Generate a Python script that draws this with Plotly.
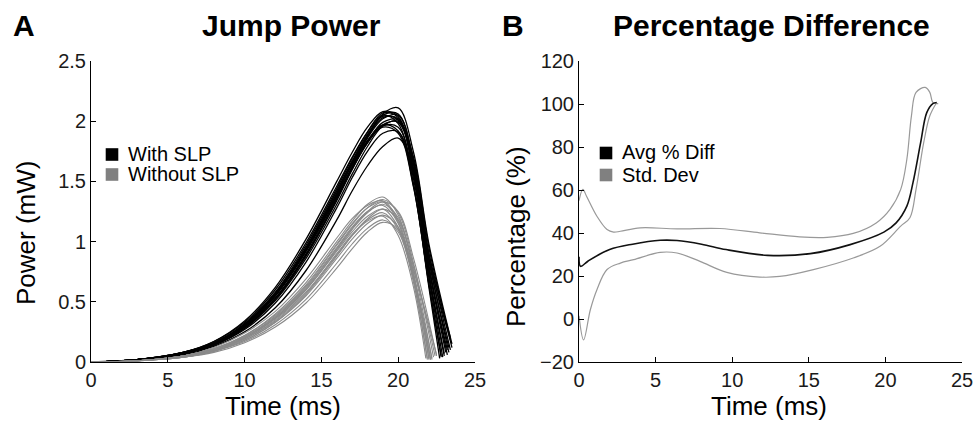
import plotly.graph_objects as go

W, H = 976, 425
FONT = "Liberation Sans, Arial, sans-serif"

# ---------------- Panel A: jump power (time in ms, power in mW) ----------------
T_WITH = [0, 3, 6, 8, 10, 12, 14, 16, 17, 18, 19, 20, 21, 22]
WITH_SLP = [
    [0, .02, .07, .15, .29, .53, .89, 1.35, 1.62, 1.87, 2.06, 2.11, 1.74, .98],
    [0, .02, .08, .16, .32, .58, .97, 1.44, 1.69, 1.91, 2.07, 2.03, 1.56, .72],
    [0, .02, .07, .15, .31, .57, .95, 1.42, 1.67, 1.89, 2.04, 2.01, 1.60, .78],
    [0, .02, .07, .15, .30, .55, .93, 1.40, 1.65, 1.87, 2.03, 2.02, 1.64, .84],
    [0, .02, .07, .14, .28, .52, .88, 1.34, 1.60, 1.83, 1.99, 2.01, 1.65, .86],
    [0, .02, .07, .15, .30, .55, .92, 1.37, 1.61, 1.82, 1.96, 1.95, 1.52, .70],
    [0, .02, .08, .16, .31, .56, .94, 1.40, 1.64, 1.84, 1.97, 1.92, 1.46, .62],
    [0, .02, .07, .14, .27, .49, .83, 1.28, 1.53, 1.75, 1.90, 1.91, 1.55, .78],
    [0, .02, .06, .13, .25, .45, .76, 1.18, 1.42, 1.63, 1.79, 1.86, 1.60, .90],
    [0, .02, .08, .17, .33, .60, .99, 1.46, 1.70, 1.91, 2.05, 1.98, 1.48, .64],
    [0, .02, .07, .15, .30, .55, .92, 1.39, 1.64, 1.86, 2.02, 2.05, 1.68, .90],
    [0, .02, .07, .15, .29, .53, .90, 1.36, 1.60, 1.82, 1.97, 1.99, 1.60, .80],
    [0, .02, .08, .16, .31, .57, .95, 1.42, 1.66, 1.88, 2.05, 2.06, 1.66, .85],
    [0, .02, .07, .15, .31, .56, .93, 1.38, 1.62, 1.83, 1.95, 1.90, 1.45, .65],
    [0, .02, .08, .17, .34, .62, 1.02, 1.50, 1.74, 1.95, 2.08, 2.04, 1.58, .74],
    [0, .02, .07, .14, .28, .51, .86, 1.31, 1.56, 1.79, 1.96, 2.00, 1.70, .95],
]
# last sample of each curve (time, power)
WITH_SLP_END = [(23.5, .15), (23.0, .05), (23.1, .08), (23.3, .12), (23.4, .18),
                (22.9, .04), (22.7, .03), (23.2, .10), (23.4, .20), (22.8, .04),
                (23.4, .10), (23.2, .06), (23.3, .08), (22.8, .05), (23.0, .07),
                (23.5, .12)]

T_WITHOUT = [0, 3, 6, 8, 10, 12, 14, 16, 17, 18, 19, 20, 21]
WITHOUT_SLP = [
    [0, .01, .05, .10, .20, .36, .60, .92, 1.08, 1.21, 1.27, 1.12, .70],
    [0, .01, .05, .11, .22, .40, .66, 1.00, 1.17, 1.31, 1.37, 1.22, .74],
    [0, .01, .05, .11, .21, .38, .63, .97, 1.14, 1.28, 1.35, 1.24, .82],
    [0, .01, .05, .10, .20, .36, .60, .93, 1.10, 1.24, 1.31, 1.20, .78],
    [0, .01, .04, .09, .18, .33, .56, .88, 1.05, 1.19, 1.27, 1.18, .80],
    [0, .01, .05, .10, .19, .35, .58, .90, 1.06, 1.18, 1.24, 1.10, .66],
    [0, .01, .04, .09, .17, .31, .52, .82, .98, 1.11, 1.18, 1.08, .70],
    [0, .01, .04, .08, .16, .29, .49, .78, .94, 1.08, 1.16, 1.10, .76],
    [0, .01, .05, .11, .22, .39, .64, .98, 1.15, 1.28, 1.33, 1.16, .68],
    [0, .01, .05, .10, .20, .37, .61, .94, 1.11, 1.25, 1.33, 1.25, .86],
    [0, .01, .04, .09, .18, .33, .55, .86, 1.02, 1.15, 1.22, 1.12, .72],
    [0, .01, .05, .10, .21, .37, .62, .95, 1.12, 1.25, 1.30, 1.15, .70],
    [0, .01, .04, .09, .19, .34, .57, .89, 1.05, 1.17, 1.21, 1.05, .62],
    [0, .01, .05, .12, .24, .42, .69, 1.03, 1.19, 1.30, 1.34, 1.18, .72],
]
WITHOUT_SLP_END = [(22.1, .02), (22.0, .03), (22.3, .04), (22.2, .02), (22.4, .05),
                   (21.9, .02), (22.2, .03), (22.5, .06), (21.9, .03), (22.5, .05),
                   (22.1, .02), (22.0, .02), (21.8, .03), (22.1, .03)]

# ---------------- Panel B: percentage difference ----------------
T_AVG = [0, 0.1, 0.6, 2.0, 3.5, 5.3, 6.4, 8.0, 9.6, 12.3, 15.1, 17.7, 19.9, 20.7,
         21.4, 21.8, 22.3, 22.7, 23.1, 23.35]
AVG_DIFF = [29, 24.5, 27, 32.3, 34.8, 36.6, 36.5, 34.8, 32.3, 29.6, 30.4, 34.6, 40.4, 44.7,
            52.5, 63.4, 82, 96, 100.2, 100.7]

T_STD_UP = [0, 0.25, 0.5, 1.17, 1.83, 2.26, 2.7, 4.0, 6.4, 9.2, 11.8, 14.4, 16.2, 17.9,
            19.4, 20.3, 21.0, 21.4, 21.7, 22.0, 22.6, 22.9, 23.1, 23.45]
STD_UP = [55, 60.3, 57, 47.8, 41.6, 40.4, 40.8, 42.4, 41.9, 42.1, 40.1, 38.2, 38, 39.8,
          44.7, 51, 60.3, 74.3, 94.5, 105.4, 107.7, 105.4, 100.7, 100.2]

T_STD_LOW = [0, 0.3, 0.74, 1.17, 1.83, 2.7, 3.57, 5.3, 6.4, 7.9, 9.65, 11.8, 13.1, 15.3,
             17.9, 19.65, 21.0, 21.6, 22.0, 22.5, 22.9, 23.35]
STD_LOW = [1.5, -9.7, 4.3, 13.6, 23, 26, 27.6, 31, 30.7, 26.8, 21.7, 19.5, 19.8, 23,
           28.4, 33.8, 43.2, 47.1, 60.3, 82, 94.5, 100.7]

BLACK = "#000000"
GRAY = "#8a8a8a"


# pixel position on the figure -> paper fraction
def px(x):
    return x / W


def py(y):
    return 1 - y / H


fig = go.Figure()

# with SLP curves first, without SLP on top (as in the original)
for vals, (te, pe) in zip(WITH_SLP, WITH_SLP_END):
    fig.add_trace(go.Scatter(x=T_WITH + [te], y=vals + [pe], mode="lines",
                             line=dict(color=BLACK, width=1.3, shape="spline"),
                             showlegend=False, xaxis="x", yaxis="y"))
for vals, (te, pe) in zip(WITHOUT_SLP, WITHOUT_SLP_END):
    fig.add_trace(go.Scatter(x=T_WITHOUT + [te], y=vals + [pe], mode="lines",
                             line=dict(color=GRAY, width=1.1, shape="spline"),
                             showlegend=False, xaxis="x", yaxis="y"))

# panel B
fig.add_trace(go.Scatter(x=T_STD_UP, y=STD_UP, mode="lines",
                         line=dict(color="#999999", width=1.2, shape="spline"),
                         showlegend=False, xaxis="x2", yaxis="y2"))
fig.add_trace(go.Scatter(x=T_STD_LOW, y=STD_LOW, mode="lines",
                         line=dict(color="#999999", width=1.2, shape="spline"),
                         showlegend=False, xaxis="x2", yaxis="y2"))
fig.add_trace(go.Scatter(x=T_AVG, y=AVG_DIFF, mode="lines",
                         line=dict(color="#111111", width=1.6, shape="spline"),
                         showlegend=False, xaxis="x2", yaxis="y2"))

axis_style = dict(showline=True, linecolor="black", linewidth=1, ticks="inside",
                  ticklen=5, tickcolor="black", showgrid=False, zeroline=False,
                  automargin=False,
                  tickfont=dict(family=FONT, size=20, color="#1a1a1a"))
y_dom = [py(362), py(61)]

fig.update_layout(
    width=W, height=H,
    margin=dict(l=0, r=0, t=0, b=0, autoexpand=False),
    paper_bgcolor="white", plot_bgcolor="white",
    showlegend=False,
    xaxis=dict(domain=[px(91), px(475)], range=[0, 25], anchor="y",
               tickvals=[0, 5, 10, 15, 20, 25], **axis_style),
    yaxis=dict(domain=y_dom, range=[0, 2.5], anchor="x",
               tickvals=[0, 0.5, 1, 1.5, 2, 2.5],
               ticktext=["0", "0.5", "1", "1.5", "2", "2.5"], **axis_style),
    xaxis2=dict(domain=[px(579), px(962)], range=[0, 25], anchor="y2",
                tickvals=[0, 5, 10, 15, 20, 25], **axis_style),
    yaxis2=dict(domain=y_dom, range=[-20, 120], anchor="x2",
                tickvals=[-20, 0, 20, 40, 60, 80, 100, 120], **axis_style),
)

# titles, panel letters and axis titles
texts = [
    ("A", 24, 26, 30, True, 0),
    ("Jump Power", 291, 26, 30, True, 0),
    ("B", 513, 26, 30, True, 0),
    ("Percentage Difference", 771, 26, 30, True, 0),
    ("Time (ms)", 283, 406, 26, False, 0),
    ("Time (ms)", 769, 406, 26, False, 0),
    ("Power (mW)", 26, 233, 26, False, -90),
    ("Percentage (%)", 516, 237, 26, False, -90),
]
for txt, x, y, size, bold, angle in texts:
    fig.add_annotation(x=px(x), y=py(y), xref="paper", yref="paper",
                       text=f"<b>{txt}</b>" if bold else txt, showarrow=False,
                       textangle=angle, xanchor="center", yanchor="middle",
                       font=dict(family=FONT, size=size, color="black"))

# legends (small squares + labels, MATLAB style)
legend_items = [
    ("With SLP", BLACK, 112, 154.5, 153.5),
    ("Without SLP", "#808080", 112, 174.5, 174),
    ("Avg % Diff", BLACK, 606, 153, 151.5),
    ("Std. Dev", "#808080", 606, 175, 175),
]
for label, color, cx, cy, ty in legend_items:
    fig.add_shape(type="rect", xref="paper", yref="paper",
                  x0=px(cx - 6.3), x1=px(cx + 6.3), y0=py(cy + 6.3), y1=py(cy - 6.3),
                  fillcolor=color, line=dict(width=0))
    fig.add_annotation(x=px(cx + 13.5), y=py(ty), xref="paper", yref="paper",
                       text=label, showarrow=False, xanchor="left", yanchor="middle",
                       font=dict(family=FONT, size=20, color="black"))

# drop the default 8px page margin so the figure fills the window exactly
fig.write_html("out.html",
               config={"displayModeBar": False},
               post_script="document.body.style.margin='0';"
                           "document.body.style.overflow='hidden';")
